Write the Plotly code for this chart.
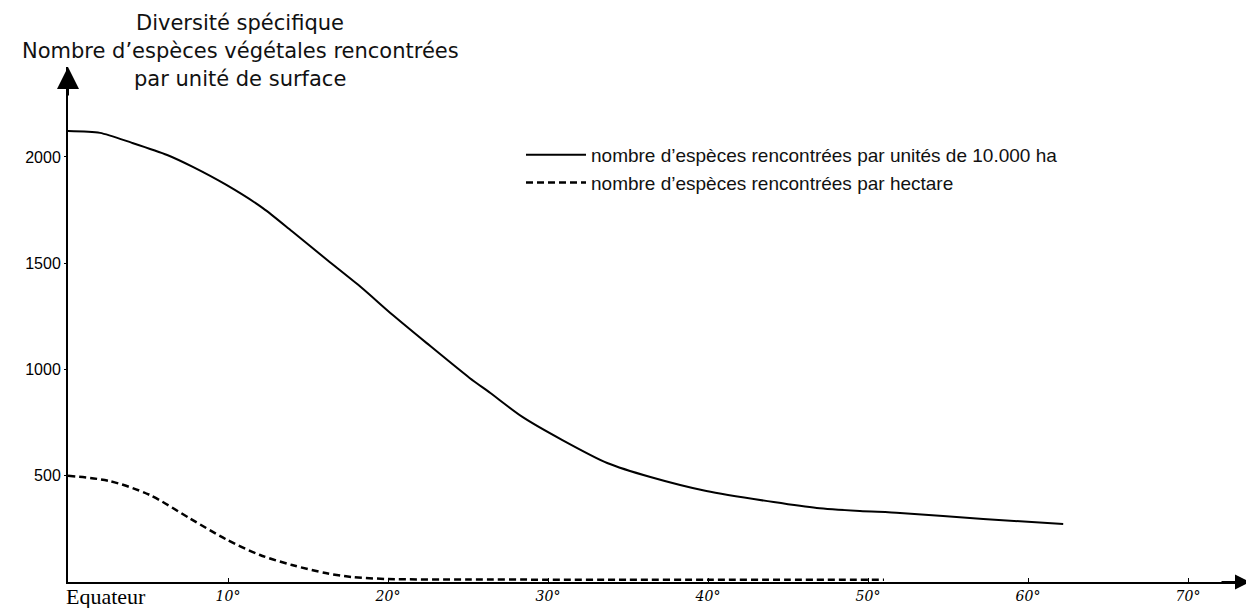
import plotly.graph_objects as go

# Latitude (degrees) and species counts
lat_10000ha = [0, 2, 4, 6.2, 7.8, 9.9, 12.2, 14, 16.2, 18.3, 20.3, 22.4, 25.1, 26.4, 28.4,
               30.9, 33.7, 36.4, 39.9, 44.1, 46.8, 49.5, 52, 57.2, 62.2]
species_10000ha = [2122, 2113, 2066, 2009, 1953, 1868, 1758, 1650, 1515, 1388, 1256, 1125, 960, 889, 777,
                   668, 560, 494, 428, 376, 348, 334, 325, 296, 273]

lat_hectare = [0, 2.6, 5.1, 7.6, 9.9, 12, 14, 16.1, 17.7, 20, 25, 30, 35, 40, 45, 51]
species_hectare = [500, 475, 410, 300, 200, 127, 80, 42, 24, 14, 12, 11, 11, 11, 11, 11]

x_tickvals = [10, 20, 30, 40, 50, 60, 70]
x_ticktext = ["10°", "20°", "30°", "40°", "50°", "60°", "70°"]
y_tickvals = [500, 1000, 1500, 2000]
y_ticktext = ["500", "1000", "1500", "2000"]

name_solid = "nombre d’espèces rencontrées par unités de 10.000 ha"
name_dash = "nombre d’espèces rencontrées par hectare"
title_lines = ["Diversité spécifique",
               "Nombre d’espèces végétales rencontrées",
               "par unité de surface"]

fig = go.Figure()
fig.add_trace(go.Scatter(x=lat_10000ha, y=species_10000ha, mode="lines", name=name_solid,
                         line=dict(color="black", width=2, shape="spline", smoothing=0.7),
                         legendgroup="a"))
fig.add_trace(go.Scatter(x=lat_hectare, y=species_hectare, mode="lines", name=name_dash,
                         line=dict(color="black", width=2.5, dash="7px,4px", shape="spline", smoothing=0.8),
                         legendgroup="b"))

# page is offset by the 8px body margin
OFF = 8
W, H = 1246, 600
L, R, T, B = 60, 4, 59, 26
pw, ph = W - L - R, H - T - B

def py(page_y):
    return (H - B - (page_y - OFF)) / ph

def pxx(page_x):
    return (page_x - OFF - L) / pw

fig.update_layout(
    width=W, height=H,
    margin=dict(l=L, r=R, t=T, b=B, autoexpand=False),
    paper_bgcolor="white", plot_bgcolor="white",
    font=dict(family="Liberation Sans, Arial, sans-serif", color="black"),
    showlegend=True,
    legend=dict(x=pxx(521), y=py(136), xanchor="left", yanchor="top",
                font=dict(size=19, color="#111"), itemwidth=60,
                tracegroupgap=0, bgcolor="rgba(0,0,0,0)"),
    xaxis=dict(range=[0, 73.875], showgrid=False, zeroline=False, automargin=False,
               showline=True, linecolor="black", linewidth=2,
               tickvals=x_tickvals, ticktext=[f"<i>{t}</i>" for t in x_ticktext],
               ticks="inside", ticklen=4, tickcolor="black",
               tickfont=dict(family="DejaVu Serif, serif", size=14, color="black")),
    yaxis=dict(range=[0, 2423], showgrid=False, zeroline=False, automargin=False,
               showline=True, linecolor="black", linewidth=2,
               tickvals=y_tickvals, ticktext=y_ticktext,
               ticks="outside", ticklen=2, tickcolor="black",
               tickfont=dict(family="Liberation Sans, Arial, sans-serif", size=16, color="black")),
)

annotations = []
for line, yc in zip(title_lines, [23.5, 51, 78.5]):
    annotations.append(dict(text=line, xref="paper", yref="paper", x=pxx(240), y=py(yc),
                            xanchor="center", yanchor="middle", showarrow=False,
                            font=dict(size=21, family="DejaVu Sans, Liberation Sans, sans-serif", color="#111")))
annotations += [
    dict(text="Equateur", xref="paper", yref="paper", x=pxx(64), y=py(596),
         xanchor="left", yanchor="middle", showarrow=False,
         font=dict(size=22, family="Liberation Serif, Times New Roman, serif", color="black")),
    # axis arrows
    dict(xref="paper", yref="paper", x=0, y=1.0, ax=0, ay=30, axref="pixel", ayref="pixel",
         showarrow=True, arrowhead=2, arrowsize=2.2, arrowwidth=2, arrowcolor="black", text=""),
    dict(xref="paper", yref="paper", x=1.0, y=0, ax=-30, ay=0, axref="pixel", ayref="pixel",
         showarrow=True, arrowhead=2, arrowsize=1.5, arrowwidth=2, arrowcolor="black", text=""),
]
fig.update_layout(annotations=annotations)

fig.write_html("out.html")
